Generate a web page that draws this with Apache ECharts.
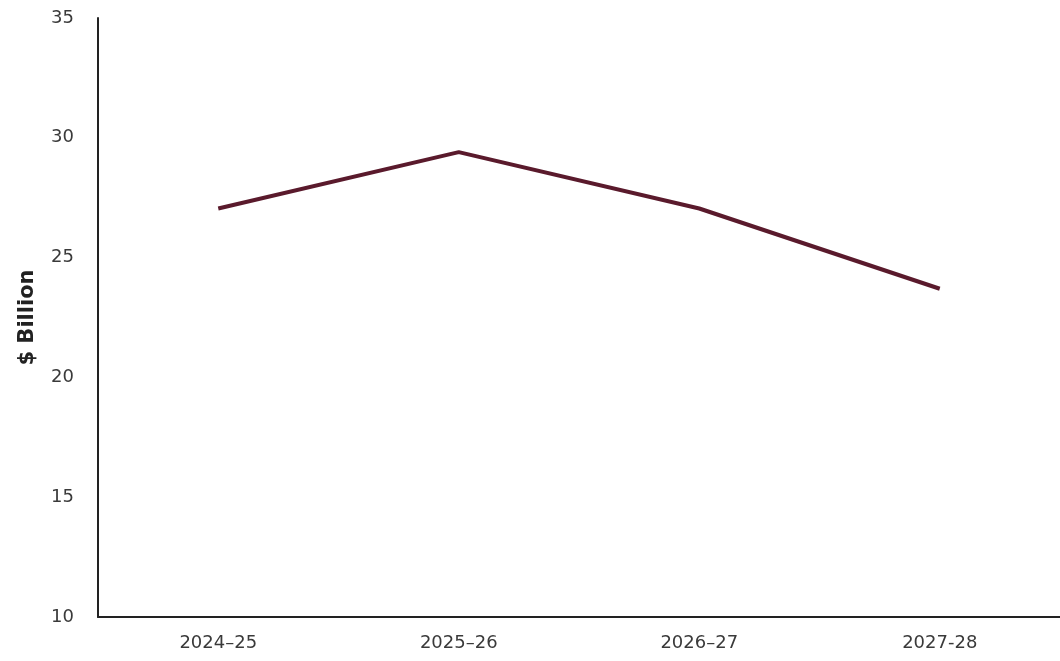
<!DOCTYPE html>
<html>
<head>
<meta charset="utf-8">
<script src="https://cdn.jsdelivr.net/npm/echarts@6/dist/echarts.min.js"></script>
<style>
  html, body { margin: 0; padding: 0; background: #fff; }
  #chart { width: 1060px; height: 661px; }
</style>
</head>
<body>
<div id="chart"></div>
<script>
// Financial years shown along the x axis
const years = ['2024\u201325', '2025\u201326', '2026\u201327', '2027-28'];
// Values in $ billion
const values = [27.05, 29.4, 27.05, 23.7];
// Y axis range and step
const yMin = 10;
const yMax = 35;
const yStep = 5;

const chart = echarts.init(document.getElementById('chart'));
const font = '"DejaVu Sans", sans-serif';

chart.setOption({
  animation: false,
  backgroundColor: '#ffffff',
  grid: { left: 98, right: 0, top: 18, bottom: 44 },
  xAxis: {
    type: 'category',
    data: years,
    boundaryGap: true,
    axisLine: { lineStyle: { color: '#222', width: 2 } },
    axisTick: { show: false },
    axisLabel: { color: '#3a3a3a', fontSize: 18, fontFamily: font, margin: 17 }
  },
  yAxis: {
    type: 'value',
    min: yMin,
    max: yMax,
    interval: yStep,
    name: '$ Billion',
    nameLocation: 'middle',
    nameGap: 60,
    nameTextStyle: { color: '#222', fontSize: 21, fontWeight: 'bold', fontFamily: font },
    axisLine: { show: true, lineStyle: { color: '#222', width: 2 } },
    axisTick: { show: false },
    splitLine: { show: false },
    axisLabel: { color: '#3a3a3a', fontSize: 18, fontFamily: font, margin: 24 }
  },
  series: [{
    type: 'line',
    data: values,
    symbol: 'none',
    lineStyle: { color: '#5a1a2c', width: 4 }
  }]
});
</script>
</body>
</html>
